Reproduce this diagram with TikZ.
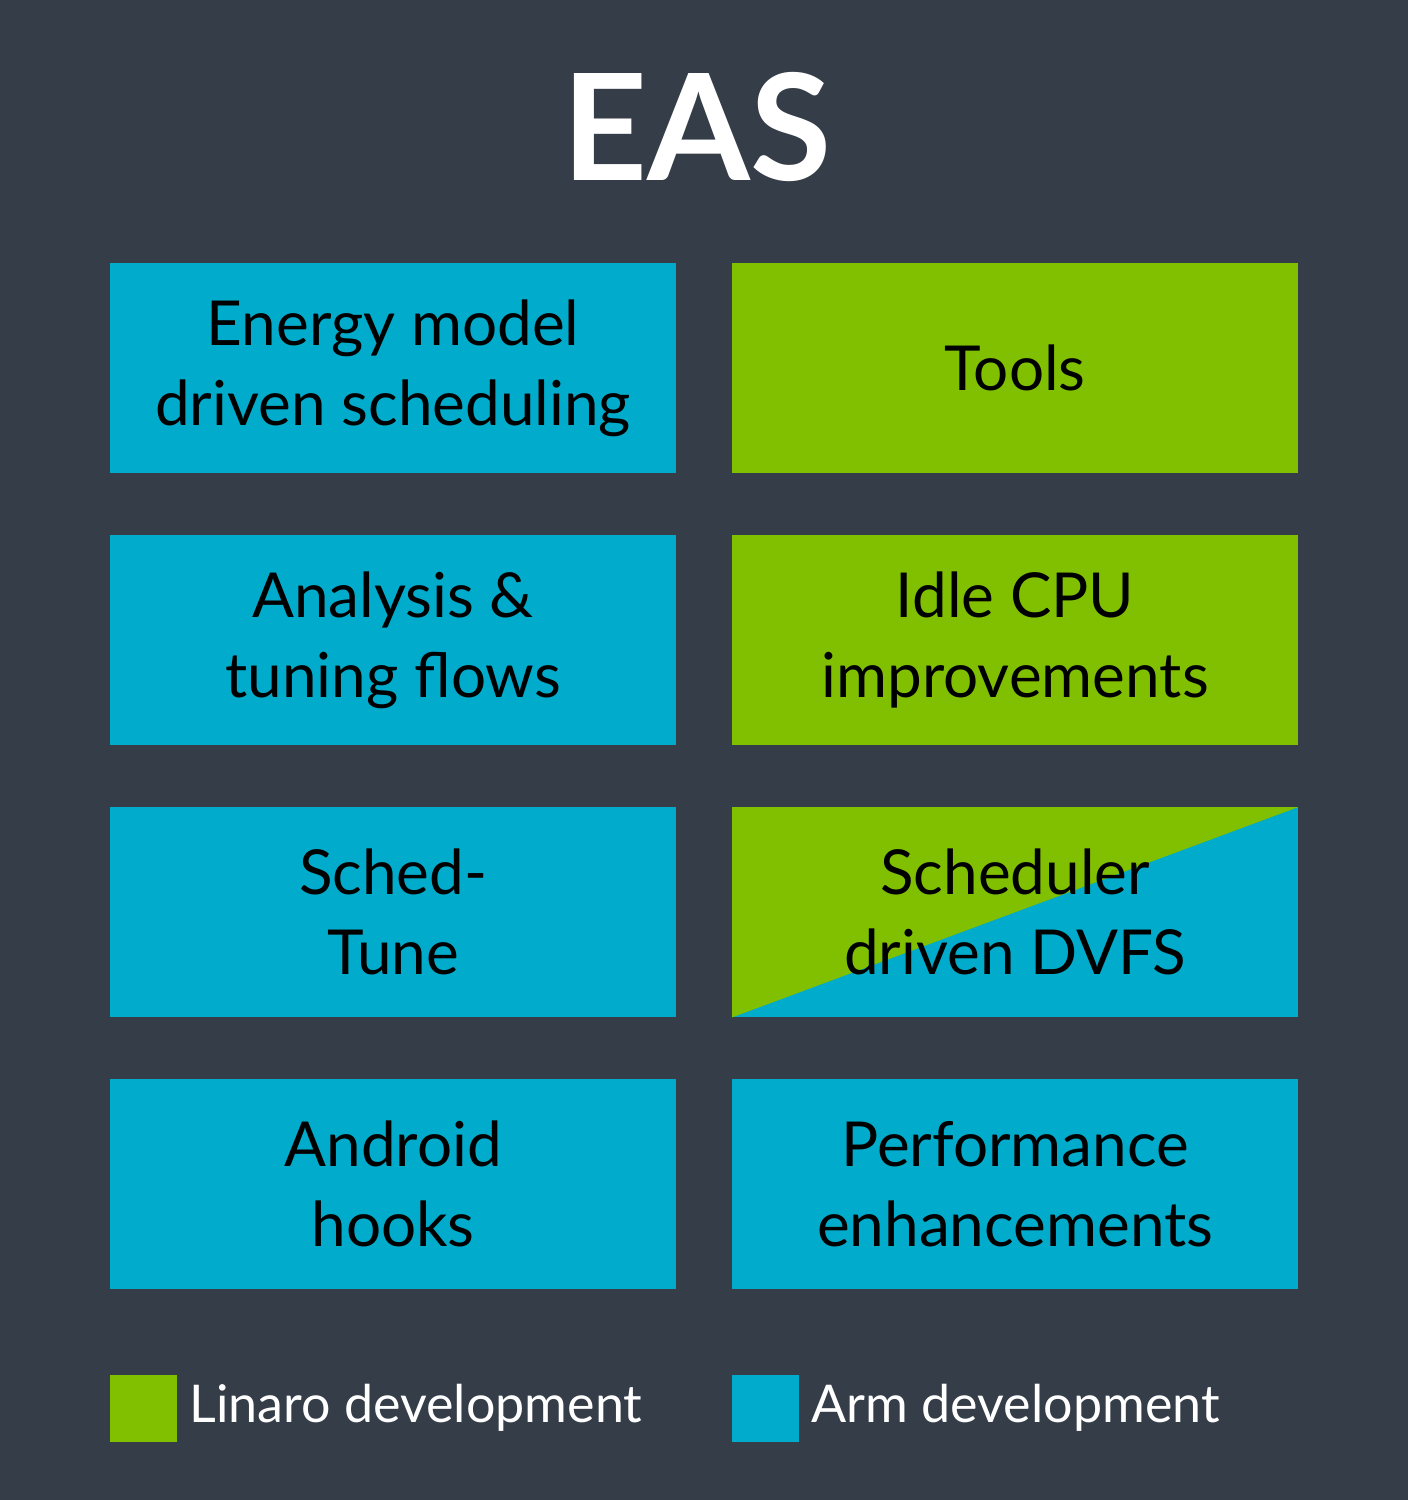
\documentclass[tikz,border=0pt]{standalone}
\usepackage{fontspec}
\setmainfont{Lato}
\definecolor{bg}{HTML}{353E48}
\definecolor{armblue}{HTML}{00ABCB}
\definecolor{lingreen}{HTML}{80C000}
\begin{document}
\begin{tikzpicture}[x=1pt,y=-1pt,
  box/.style={minimum width=566pt,minimum height=210pt,inner sep=0pt,anchor=north west,align=center,text=black,font=\fontsize{62}{80}\selectfont},
  legtext/.style={anchor=west,text=white,font=\fontsize{52}{60}\selectfont}]
\fill[bg] (0,0) rectangle (1408,1500);
\useasboundingbox (0,0) rectangle (1408,1500);
\node[text=white,font=\fontsize{148}{150}\selectfont\bfseries] (title) at (697,127) {EAS};
\node[box,fill=armblue] (b1) at (110,263) {Energy model\\driven scheduling};
\node[box,fill=lingreen] (b2) at (732,263) {Tools};
\node[box,fill=armblue] (b3) at (110,535) {Analysis \&\\tuning flows};
\node[box,fill=lingreen] (b4) at (732,535) {Idle CPU\\improvements};
\node[box,fill=armblue] (b5) at (110,807) {Sched-\\Tune};
\node[box,fill=armblue] (b6) at (732,807) {};
\fill[lingreen] (b6.north west) -- (b6.north east) -- (b6.south west) -- cycle;
\node[box,minimum width=0pt,minimum height=0pt,anchor=center] (b6t) at (b6.center) {Scheduler\\driven DVFS};
\node[box,fill=armblue] (b7) at (110,1079) {Android\\hooks};
\node[box,fill=armblue] (b8) at (732,1079) {Performance\\enhancements};
\node[fill=lingreen,minimum size=67pt,inner sep=0pt,anchor=north west] (l1) at (110,1375) {};
\node[legtext] (l1t) at (186,1408) {Linaro development};
\node[fill=armblue,minimum size=67pt,inner sep=0pt,anchor=north west] (l2) at (732,1375) {};
\node[legtext] (l2t) at (808,1408) {Arm development};
\end{tikzpicture}
\end{document}
